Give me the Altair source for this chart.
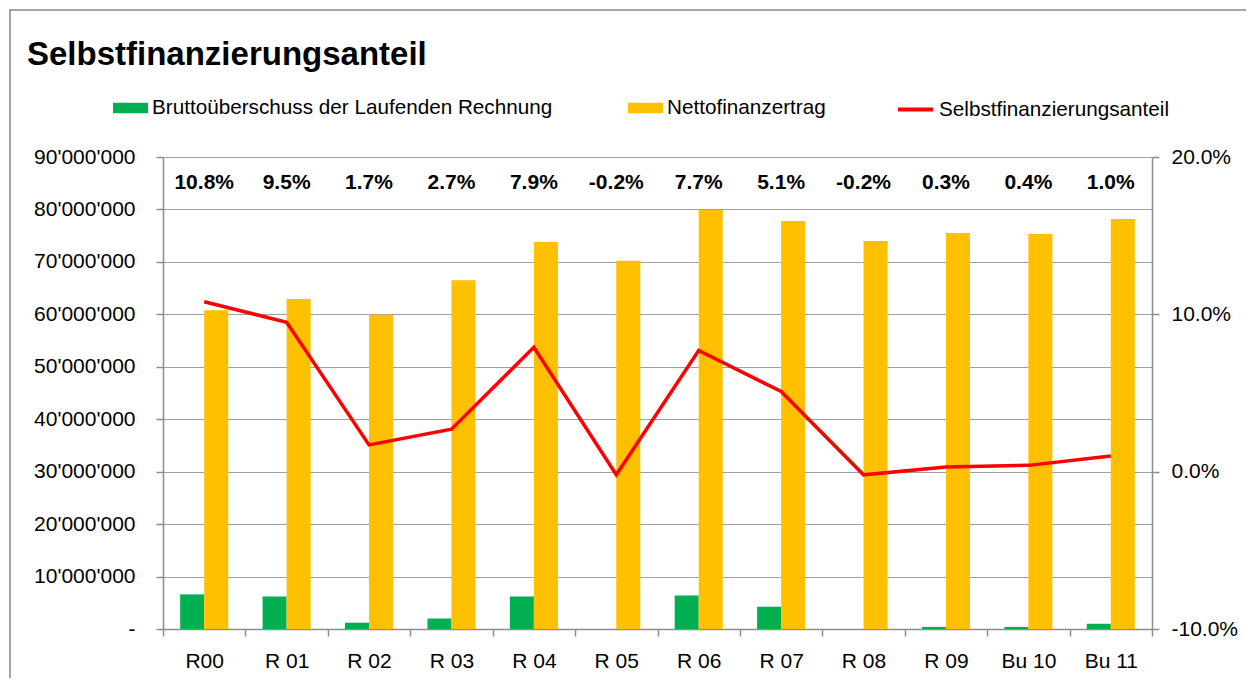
import altair as alt
import pandas as pd

# ---------------- data ----------------
title_text = "Selbstfinanzierungsanteil"
categories = ["R00", "R 01", "R 02", "R 03", "R 04", "R 05", "R 06", "R 07",
              "R 08", "R 09", "Bu 10", "Bu 11"]
brutto = [6_600_000, 6_200_000, 1_200_000, 2_000_000, 6_200_000, 0,
          6_400_000, 4_250_000, 0, 400_000, 400_000, 1_000_000]
netto = [60_800_000, 62_900_000, 59_900_000, 66_500_000, 73_800_000, 70_200_000,
         79_900_000, 77_800_000, 74_000_000, 75_500_000, 75_300_000, 78_200_000]
anteil = [0.108, 0.095, 0.017, 0.027, 0.079, -0.002, 0.077, 0.051,
          -0.002, 0.003, 0.004, 0.010]
bar_series = ["Bruttoüberschuss der Laufenden Rechnung", "Nettofinanzertrag"]
bar_colors = ["#00B050", "#FFC000"]
line_series = "Selbstfinanzierungsanteil"
line_color = "#FF0000"
left_ticks = [0, 10_000_000, 20_000_000, 30_000_000, 40_000_000, 50_000_000,
              60_000_000, 70_000_000, 80_000_000, 90_000_000]
right_ticks = [-0.1, 0.0, 0.1, 0.2]

bars_df = pd.DataFrame({
    "category": categories * 2,
    "series": [bar_series[0]] * len(categories) + [bar_series[1]] * len(categories),
    "value": brutto + netto,
})
line_df = pd.DataFrame({
    "category": categories,
    "series": [line_series] * len(categories),
    "anteil": anteil,
    "label": [f"{v * 100:.1f}%" for v in anteil],
})

FONT = "Liberation Sans"
GRAY = "#8c8c8c"
GRID = "#a0a0a0"

x_enc = alt.X(
    "category:N", sort=categories,
    scale=alt.Scale(paddingInner=0, paddingOuter=0),
    axis=alt.Axis(title=None, labelAngle=0, tickBand="extent", labelFontSize=21,
                  labelFont=FONT, labelColor="black", labelPadding=14, tickSize=7,
                  tickColor=GRAY, tickWidth=1.5, domainColor=GRAY, domainWidth=1.5,
                  grid=False),
)

border = alt.Chart(pd.DataFrame({"b": [0]})).mark_rect(
    filled=False, stroke="#888888", strokeWidth=1.5
).encode(x=alt.value(-153), x2=alt.value(1120), y=alt.value(-147), y2=alt.value(700))

bars = alt.Chart(bars_df).mark_bar().encode(
    x=x_enc,
    xOffset=alt.XOffset("series:N", sort=bar_series,
                        scale=alt.Scale(paddingInner=0, paddingOuter=0.715)),
    y=alt.Y("value:Q", scale=alt.Scale(domain=[0, 90_000_000], nice=False, zero=True),
            axis=alt.Axis(title=None, values=left_ticks,
                          labelExpr="datum.value == 0 ? '-' : replace(format(datum.value, ','), regexp(',', 'g'), \"'\")",
                          labelFontSize=21, labelFont=FONT, labelColor="black",
                          labelPadding=21, tickSize=7, tickColor=GRAY, tickWidth=1.5,
                          domainColor=GRAY, domainWidth=1.5,
                          grid=True, gridColor=GRID, gridWidth=1.2)),
    fill=alt.Fill("series:N", scale=alt.Scale(domain=bar_series, range=bar_colors),
                  legend=alt.Legend(orient="none", legendX=-50, legendY=-67,
                                    direction="horizontal", title=None,
                                    symbolType="M-1,-0.3H1V0.3H-1Z", symbolSize=1225,
                                    symbolStrokeWidth=0, labelFontSize=20.7,
                                    labelFont=FONT, labelColor="black", labelLimit=700,
                                    labelOffset=4, columnPadding=75)),
)

line = alt.Chart(line_df).mark_line(strokeWidth=3.5).encode(
    x=x_enc,
    y=alt.Y("anteil:Q", scale=alt.Scale(domain=[-0.1, 0.2], nice=False, zero=False),
            axis=alt.Axis(title=None, orient="right", values=right_ticks,
                          labelExpr="(datum.value < -0.0001 ? '-' : '') + format(abs(datum.value) * 100, '.1f') + '%'",
                          labelFontSize=21, labelFont=FONT, labelColor="black",
                          labelPadding=12, tickSize=7, tickColor=GRAY, tickWidth=1.5,
                          domainColor=GRAY, domainWidth=1.5, grid=False)),
    stroke=alt.Stroke("series:N", scale=alt.Scale(domain=[line_series], range=[line_color]),
                      legend=alt.Legend(orient="none", legendX=733, legendY=-67,
                                        direction="horizontal", title=None,
                                        symbolType="stroke", symbolSize=1225,
                                        symbolStrokeWidth=4, labelFontSize=20.7,
                                        labelFont=FONT, labelColor="black",
                                        labelLimit=700, labelOffset=4)),
)

labels = alt.Chart(line_df).mark_text(
    fontSize=21, fontWeight="bold", font=FONT, color="black", baseline="middle"
).encode(x=x_enc, y=alt.value(26), text="label:N")

title = alt.Chart(pd.DataFrame({"t": [title_text]})).mark_text(
    align="left", baseline="alphabetic", fontSize=33, fontWeight="bold",
    font=FONT, color="black"
).encode(x=alt.value(-136), y=alt.value(-92), text="t:N")

chart = alt.layer(border, bars, line, labels, title).resolve_scale(
    y="independent"
).properties(
    width=989, height=472,
    padding={"left": 155, "top": 149, "right": 94, "bottom": 49},
    autosize=alt.AutoSizeParams(type="none"),
    background="white",
).configure_view(stroke="transparent")

chart.save("out.html", embed_options={"renderer": "svg", "actions": False})
